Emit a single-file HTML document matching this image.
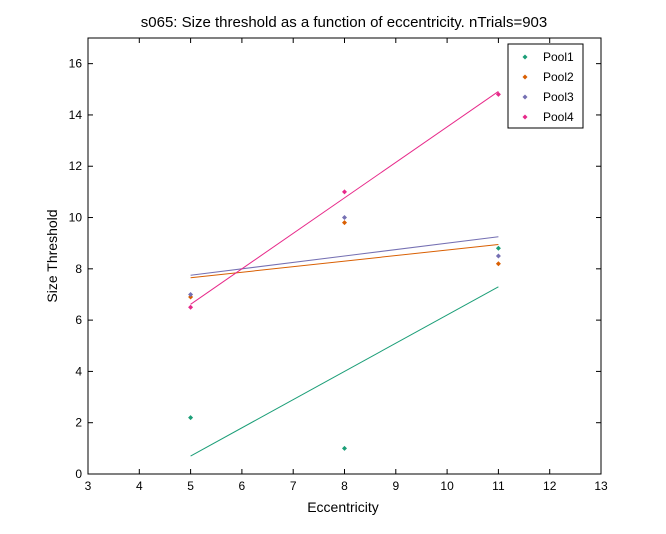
<!DOCTYPE html>
<html><head><meta charset="utf-8"><style>
body{margin:0;background:#fff;}
svg{display:block;font-family:"Liberation Sans",sans-serif;}
</style></head><body>
<svg id="chart" width="666" height="534" xmlns="http://www.w3.org/2000/svg">
<rect width="666" height="534" fill="#fff"/>
<text x="344" y="27" text-anchor="middle" font-size="15">s065: Size threshold as a function of eccentricity. nTrials=903</text>
<g id="plot"></g>
<text x="343" y="512" text-anchor="middle" font-size="14">Eccentricity</text>
<text x="57" y="256" text-anchor="middle" font-size="14" transform="rotate(-90 57 256)">Size Threshold</text>
</svg>
<script>
const xTicks=[3,4,5,6,7,8,9,10,11,12,13];
const yTicks=[0,2,4,6,8,10,12,14,16];
const eccentricities=[5,8,11];
const seriesNames=["Pool1","Pool2","Pool3","Pool4"];
const seriesColors=["#1b9e77","#d95f02","#7570b3","#e7298a"];
const pool1=[2.2,1.0,8.8];
const pool2=[6.9,9.8,8.2];
const pool3=[7.0,10.0,8.5];
const pool4=[6.5,11.0,14.8];
const series=[pool1,pool2,pool3,pool4];

const L=88,R=601,T=38,B=474,xMin=3,xMax=13,yMin=0,yMax=17;
const sx=v=>L+(v-xMin)/(xMax-xMin)*(R-L);
const sy=v=>B-(v-yMin)/(yMax-yMin)*(B-T);
const NS="http://www.w3.org/2000/svg";
const g=document.getElementById('plot');
function mk(t,a,p){const e=document.createElementNS(NS,t);for(const k in a)e.setAttribute(k,a[k]);(p||g).appendChild(e);return e;}
const box=mk('rect',{x:L,y:T,width:R-L,height:B-T,fill:'#fff',stroke:'#000','stroke-width':1});


xTicks.forEach(v=>{const x=sx(v);
mk('line',{x1:x,x2:x,y1:B,y2:B-5,stroke:'#000'});mk('line',{x1:x,x2:x,y1:T,y2:T+5,stroke:'#000'});
const t=mk('text',{x:x,y:B+16,'text-anchor':'middle','font-size':12});t.textContent=v;

});
yTicks.forEach(v=>{const y=sy(v);
mk('line',{x1:L,x2:L+5,y1:y,y2:y,stroke:'#000'});mk('line',{x1:R,x2:R-5,y1:y,y2:y,stroke:'#000'});
const t=mk('text',{x:L-6,y:y+4,'text-anchor':'end','font-size':12});t.textContent=v;

});
series.forEach((s,i)=>{
 const n=s.length;const mx=eccentricities.reduce((a,b)=>a+b)/n;const my=s.reduce((a,b)=>a+b)/n;
 let num=0,den=0;for(let k=0;k<n;k++){num+=(eccentricities[k]-mx)*(s[k]-my);den+=(eccentricities[k]-mx)**2;}
 const m=num/den,b=my-m*mx;const x0=eccentricities[0],x1=eccentricities[n-1];
 const ln=mk('line',{x1:sx(x0),y1:sy(m*x0+b),x2:sx(x1),y2:sy(m*x1+b),stroke:seriesColors[i],'stroke-width':1});
 
 
 s.forEach((v,k)=>{const p=mk('path',{d:`M${sx(eccentricities[k])},${sy(v)-2.5}l2.5,2.5l-2.5,2.5l-2.5,-2.5z`,fill:seriesColors[i]});
 
 });
});
const lg=mk('g',{});


mk('rect',{x:508,y:44,width:75,height:84,fill:'#fff',stroke:'#000'},lg);
seriesNames.forEach((nm,i)=>{const y=57+i*20;
 const e=mk('g',{},lg);
 
 
 mk('path',{d:`M525,${y-2.5}l2.5,2.5l-2.5,2.5l-2.5,-2.5z`,fill:seriesColors[i]},e);
 const t=mk('text',{x:543,y:y+4,'font-size':12},e);t.textContent=nm;});
</script>
</body></html>
